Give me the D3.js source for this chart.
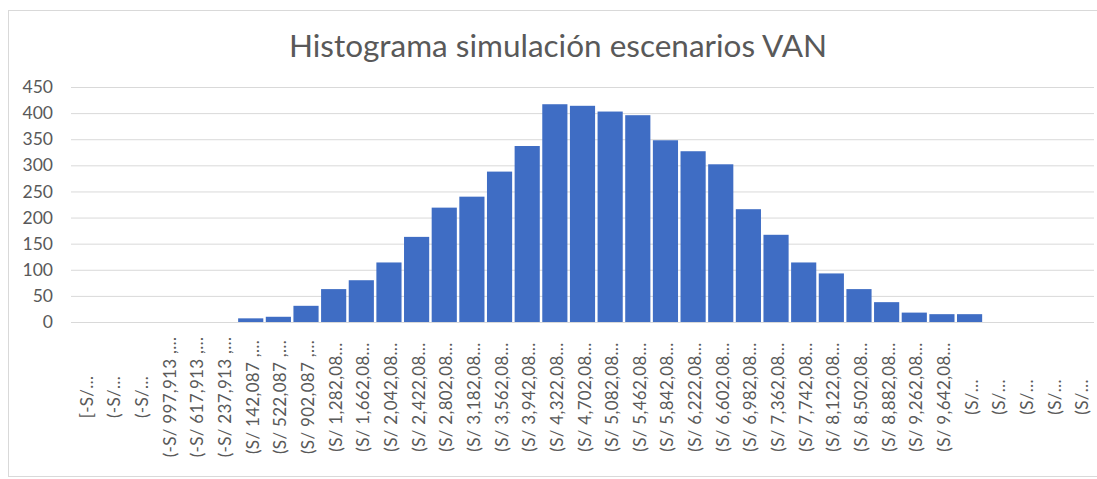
<!DOCTYPE html>
<html>
<head>
<meta charset="utf-8">
<script src="https://cdn.jsdelivr.net/npm/d3@7"></script>
<style>
  html, body { margin: 0; padding: 0; background: #ffffff; }
  svg { display: block; }
  text { font-family: Lato, "Open Sans", sans-serif; fill: #595959; }
</style>
</head>
<body>
<script>
// Bin labels of the simulated NPV (VAN) scenarios, as shown truncated on the axis
const categories = [
  "[-S/…", "(-S/…", "(-S/…",
  "(-S/ 997,913 ,…", "(-S/ 617,913 ,…", "(-S/ 237,913 ,…",
  "(S/ 142,087 ,…", "(S/ 522,087 ,…", "(S/ 902,087 ,…",
  "(S/ 1,282,08…", "(S/ 1,662,08…", "(S/ 2,042,08…", "(S/ 2,422,08…",
  "(S/ 2,802,08…", "(S/ 3,182,08…", "(S/ 3,562,08…", "(S/ 3,942,08…",
  "(S/ 4,322,08…", "(S/ 4,702,08…", "(S/ 5,082,08…", "(S/ 5,462,08…",
  "(S/ 5,842,08…", "(S/ 6,222,08…", "(S/ 6,602,08…", "(S/ 6,982,08…",
  "(S/ 7,362,08…", "(S/ 7,742,08…", "(S/ 8,122,08…", "(S/ 8,502,08…",
  "(S/ 8,882,08…", "(S/ 9,262,08…", "(S/ 9,642,08…",
  "(S/…", "(S/…", "(S/…", "(S/…", "(S/…"
];

// Frequency of scenarios falling in each bin
const frequencies = [
  0, 0, 0, 0, 0, 0,
  7, 10, 31, 63, 80, 114, 163, 219, 240, 288, 337,
  417, 414, 403, 396, 348, 327, 302, 216, 167, 114,
  93, 63, 38, 18, 15, 15,
  0, 0, 0, 0
];

const yTicks = [0, 50, 100, 150, 200, 250, 300, 350, 400, 450];
const chartTitle = "Histograma simulación escenarios VAN";

const W = 1097, H = 479;
const plot = { left: 71, right: 1094, top: 87, bottom: 322 };

const svg = d3.select("body").append("svg")
  .attr("width", W).attr("height", H);

// chart frame
svg.append("rect")
  .attr("x", 8.5).attr("y", 10.5)
  .attr("width", W).attr("height", 466)
  .attr("fill", "#ffffff")
  .attr("stroke", "#d9d9d9").attr("stroke-width", 1);

const x = d3.scaleBand()
  .domain(categories.map((c, i) => i))
  .range([plot.left, plot.right])
  .paddingInner(0.09)
  .paddingOuter(0.045);

const y = d3.scaleLinear()
  .domain([0, 450])
  .range([plot.bottom, plot.top]);

// horizontal gridlines + value labels
const yAxis = d3.axisLeft(y)
  .tickValues(yTicks)
  .tickSize(-(plot.right - plot.left))
  .tickPadding(18);

const gy = svg.append("g")
  .attr("transform", `translate(${plot.left},0)`)
  .call(yAxis);
gy.select(".domain").remove();
gy.selectAll(".tick line")
  .attr("stroke", "#d9d9d9").attr("stroke-width", 1);
gy.selectAll(".tick text")
  .style("font-family", "Lato, 'Open Sans', sans-serif")
  .style("font-size", "17.5px")
  .attr("fill", "#595959");

// bars
svg.append("g")
  .selectAll("rect")
  .data(frequencies)
  .join("rect")
  .attr("x", (d, i) => x(i))
  .attr("width", x.bandwidth())
  .attr("y", d => y(d))
  .attr("height", d => y(0) - y(d))
  .attr("fill", "#3f6dc4");

// rotated bin labels
const labelY = 397;
svg.append("g")
  .selectAll("text")
  .data(categories)
  .join("text")
  .attr("transform", (d, i) => `translate(${x(i) + x.bandwidth() / 2 + 8},${labelY}) rotate(-90)`)
  .attr("text-anchor", "middle")
  .style("font-size", "17px")
  .style("letter-spacing", "0.3px")
  .text(d => d);

// title
svg.append("text")
  .attr("x", 558).attr("y", 57)
  .attr("text-anchor", "middle")
  .style("font-size", "31.5px")
  .text(chartTitle);
</script>
</body>
</html>
